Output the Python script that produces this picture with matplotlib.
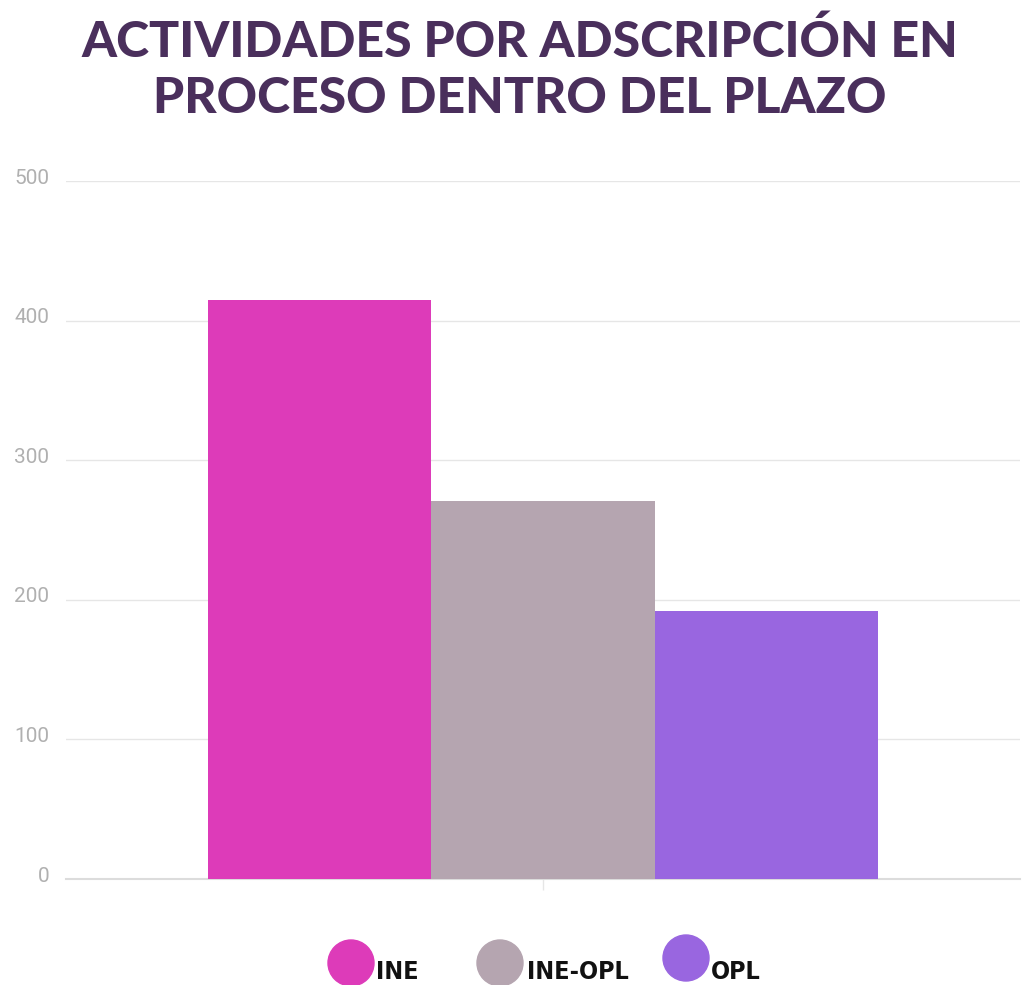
import matplotlib
matplotlib.use("Agg")
import matplotlib.pyplot as plt
from matplotlib.patches import Ellipse
import matplotlib.transforms as mtransforms

title_lines = ["ACTIVIDADES POR ADSCRIPCIÓN EN", "PROCESO DENTRO DEL PLAZO"]
series = ["INE", "INE-OPL", "OPL"]
values = [415, 271, 192]
colors = ["#dd3bb9", "#b5a5b0", "#9966e0"]
yticks = [0, 100, 200, 300, 400, 500]

W, H = 1023, 985
fig = plt.figure(figsize=(W/100, H/100), dpi=100)
ax = fig.add_axes([66/W, 1-879/H, (1020-66)/W, (879-181)/H])

bw = 0.2338
offsets = [-bw, 0.0, bw]
for off, v, c in zip(offsets, values, colors):
    ax.bar(off, v, width=bw, color=c, zorder=3)

ax.set_xlim(-0.5, 0.5)
ax.set_ylim(0, 500)
ax.set_yticks(yticks)
ax.set_yticklabels([str(t) for t in yticks], color="#b0b0b0", fontsize=15,
                   family="Roboto")
ax.tick_params(axis="y", length=0, pad=12)
off = mtransforms.ScaledTranslation(0, 5/100, fig.dpi_scale_trans)
for lab in ax.get_yticklabels():
    lab.set_transform(lab.get_transform() + off)
ax.set_xticks([0])
ax.set_xticklabels([""])
ax.tick_params(axis="x", length=8, color="#e6e6e6", width=1)
ax.grid(axis="y", color="#e6e6e6", linewidth=1, zorder=0)
for s in ["top", "right", "left"]:
    ax.spines[s].set_visible(False)
ax.spines["bottom"].set_color("#dcdcdc")
ax.spines["bottom"].set_linewidth(1.5)

for line, yb in zip(title_lines, [57, 113]):
    fig.text(520/W, 1-yb/H, line, ha="center", va="baseline", fontsize=36,
             fontweight="black", family="Lato", color="#4a2f5c")

# legend
leg_items = [(351, 963, 376), (500, 963, 527), (686, 958, 711)]
for (cx, cy, tx), name, c in zip(leg_items, series, colors):
    e = Ellipse((cx/W, 1-cy/H), 46/W, 46/H, transform=fig.transFigure,
                color=c, clip_on=False)
    fig.patches.append(e)
    fig.text(tx/W, 1-979/H, name, ha="left", va="baseline", fontsize=18,
             fontweight="bold", family="DejaVu Sans", fontstretch="condensed",
             color="#111111")

fig.savefig("out.png", dpi=100)
